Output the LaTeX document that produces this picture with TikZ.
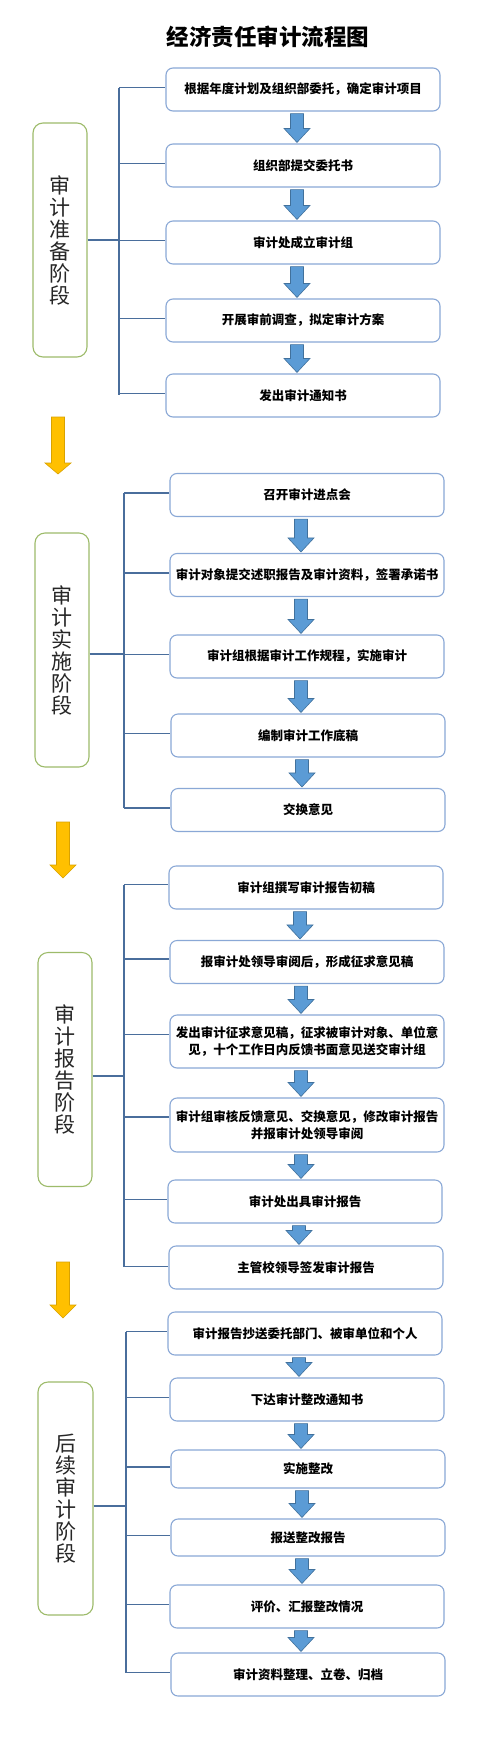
\documentclass[tikz,border=0pt]{standalone}
\usepackage{fontspec}
\setmainfont{Noto Sans CJK SC}
\usetikzlibrary{calc}
\definecolor{boxline}{HTML}{8AA8D6}
\definecolor{brack}{HTML}{4A6E9C}
\definecolor{stageline}{HTML}{9DBB6A}
\definecolor{flowfill}{HTML}{5B9BD5}
\definecolor{flowline}{HTML}{41719C}
\definecolor{yelfill}{HTML}{FFC000}
\definecolor{yelline}{HTML}{D9A200}
\newcommand\flowdown[2]{%
  \path[flowarrow] let \p1=(#1.south), \p2=(#2.north) in
  (\x1-12.5pt,\y1-2pt) -- (\x1+0.5pt,\y1-2pt) -- (\x1+0.5pt,\y2+15pt) --
  (\x1+7pt,\y2+15pt) -- (\x1-6pt,\y2+1pt) -- (\x1-19pt,\y2+15pt) --
  (\x1-12.5pt,\y2+15pt) -- cycle;}
\newcommand\yeldown[4]{%
  \path[yelarrow] (#1-6.5,#2) -- (#1+6.5,#2) -- (#1+6.5,#3) -- (#1+13,#3) --
  (#1,#4) -- (#1-13,#3) -- (#1-6.5,#3) -- cycle;}
\begin{document}
\begin{tikzpicture}[x=1pt,y=-1pt,
  stepbox/.style={draw=boxline,line width=1.1pt,rounded corners=7pt,fill=white,
    minimum width=274pt,minimum height=43pt,inner sep=2pt,align=center,
    font=\fontsize{12.5pt}{17pt}\selectfont\bfseries},
  stage/.style={draw=stageline,line width=1.1pt,rounded corners=10pt,
    minimum width=54pt,minimum height=234pt,inner sep=0pt,align=center,
    text=black!85,font=\fontsize{21pt}{22pt}\selectfont},
  bracket/.style={draw=brack,line width=1.4pt},
  flowarrow/.style={fill=flowfill,draw=flowline,line width=0.6pt},
  yelarrow/.style={fill=yelfill,draw=yelline,line width=0.6pt},
  titlefont/.style={font=\fontsize{22.5pt}{24pt}\selectfont\bfseries}]
\useasboundingbox[fill=white] (0,0) rectangle (500,1761);

\node[titlefont] (title) at (268,37) {经济责任审计流程图};

% ---------- stage 1 ----------
\node[stepbox] (b11) at (303,89.5) {根据年度计划及组织部委托，确定审计项目};
\node[stepbox] (b12) at (303,165.5) {组织部提交委托书};
\node[stepbox] (b13) at (303,242.5) {审计处成立审计组};
\node[stepbox] (b14) at (303,320.5) {开展审前调查，拟定审计方案};
\node[stepbox] (b15) at (303,395.5) {发出审计通知书};
\node[stage] (s1) at (60,240) {审\\计\\准\\备\\阶\\段};
\coordinate (k1) at (119,0);
\draw[bracket] (s1.east) -- (s1.east -| k1);
\draw[bracket] ([yshift=2pt]b11.west -| k1) -- ([yshift=1pt]b15.west -| k1);
\foreach \b in {b11,b12,b13,b14,b15} \draw[bracket] ([yshift=2pt]\b.west -| k1) -- ([yshift=2pt]\b.west);
\flowdown{b11}{b12}\flowdown{b12}{b13}\flowdown{b13}{b14}\flowdown{b14}{b15}

\yeldown{58}{417}{463}{474}

% ---------- stage 2 ----------
\node[stepbox] (b21) at (307,495) {召开审计进点会};
\node[stepbox] (b22) at (307,575) {审计对象提交述职报告及审计资料，签署承诺书};
\node[stepbox] (b23) at (307,656.5) {审计组根据审计工作规程，实施审计};
\node[stepbox] (b24) at (308,735.5) {编制审计工作底稿};
\node[stepbox] (b25) at (308,810) {交换意见};
\node[stage] (s2) at (62,650) {审\\计\\实\\施\\阶\\段};
\coordinate (k2) at (124,0);
\draw[bracket] ([yshift=-4pt]s2.east) -- ([yshift=-4pt]s2.east -| k2);
\draw[bracket] ([yshift=2pt]b21.west -| k2) -- ([yshift=2pt]b25.west -| k2);
\foreach \b in {b21,b22,b23,b24,b25} \draw[bracket] ([yshift=2pt]\b.west -| k2) -- ([yshift=2pt]\b.west);
\flowdown{b21}{b22}\flowdown{b22}{b23}\flowdown{b23}{b24}\flowdown{b24}{b25}

\yeldown{63}{822}{865}{878}

% ---------- stage 3 ----------
\node[stepbox] (b31) at (306,887.5) {审计组撰写审计报告初稿};
\node[stepbox] (b32) at (307,962) {报审计处领导审阅后，形成征求意见稿};
\node[stepbox,minimum height=53pt] (b33) at (307,1041.5) {发出审计征求意见稿，征求被审计对象、单位意\\见，十个工作日内反馈书面意见送交审计组};
\node[stepbox,minimum height=54pt] (b34) at (307,1125) {审计组审核反馈意见、交换意见，修改审计报告\\并报审计处领导审阅};
\node[stepbox] (b35) at (305,1201.5) {审计处出具审计报告};
\node[stepbox] (b36) at (306,1267.5) {主管校领导签发审计报告};
\node[stage] (s3) at (65,1069.5) {审\\计\\报\\告\\阶\\段};
\coordinate (k3) at (124,0);
\draw[bracket] ([yshift=-6.5pt]s3.east) -- ([yshift=-6.5pt]s3.east -| k3);
\draw[bracket] ([yshift=3pt]b31.west -| k3) -- ([yshift=1pt]b36.west -| k3);
\foreach \b/\d in {b31/3,b32/3,b33/7,b34/8,b35/2,b36/1} \draw[bracket] ([yshift=\d pt]\b.west -| k3) -- ([yshift=\d pt]\b.west);
\flowdown{b31}{b32}\flowdown{b32}{b33}\flowdown{b33}{b34}\flowdown{b34}{b35}\flowdown{b35}{b36}

\yeldown{63}{1262}{1305}{1318}

% ---------- stage 4 ----------
\node[stepbox] (b41) at (305,1333.5) {审计报告抄送委托部门、被审单位和个人};
\node[stepbox] (b42) at (307,1399.5) {下达审计整改通知书};
\node[stepbox,minimum height=38pt] (b43) at (308,1469) {实施整改};
\node[stepbox,minimum height=37pt] (b44) at (308,1537.5) {报送整改报告};
\node[stepbox] (b45) at (307,1606.5) {评价、汇报整改情况};
\node[stepbox] (b46) at (308,1674.5) {审计资料整理、立卷、归档};
\node[stage,minimum width=55pt,minimum height=233pt] (s4) at (65.5,1498.5) {后\\续\\审\\计\\阶\\段};
\coordinate (k4) at (126,0);
\draw[bracket] ([yshift=-7.5pt]s4.east) -- ([yshift=-7.5pt]s4.east -| k4);
\draw[bracket] ([yshift=2pt]b41.west -| k4) -- ([yshift=2pt]b46.west -| k4);
\foreach \b in {b41,b42,b43,b44,b45,b46} \draw[bracket] ([yshift=2pt]\b.west -| k4) -- ([yshift=2pt]\b.west);
\flowdown{b41}{b42}\flowdown{b42}{b43}\flowdown{b43}{b44}\flowdown{b44}{b45}\flowdown{b45}{b46}
\end{tikzpicture}
\end{document}
